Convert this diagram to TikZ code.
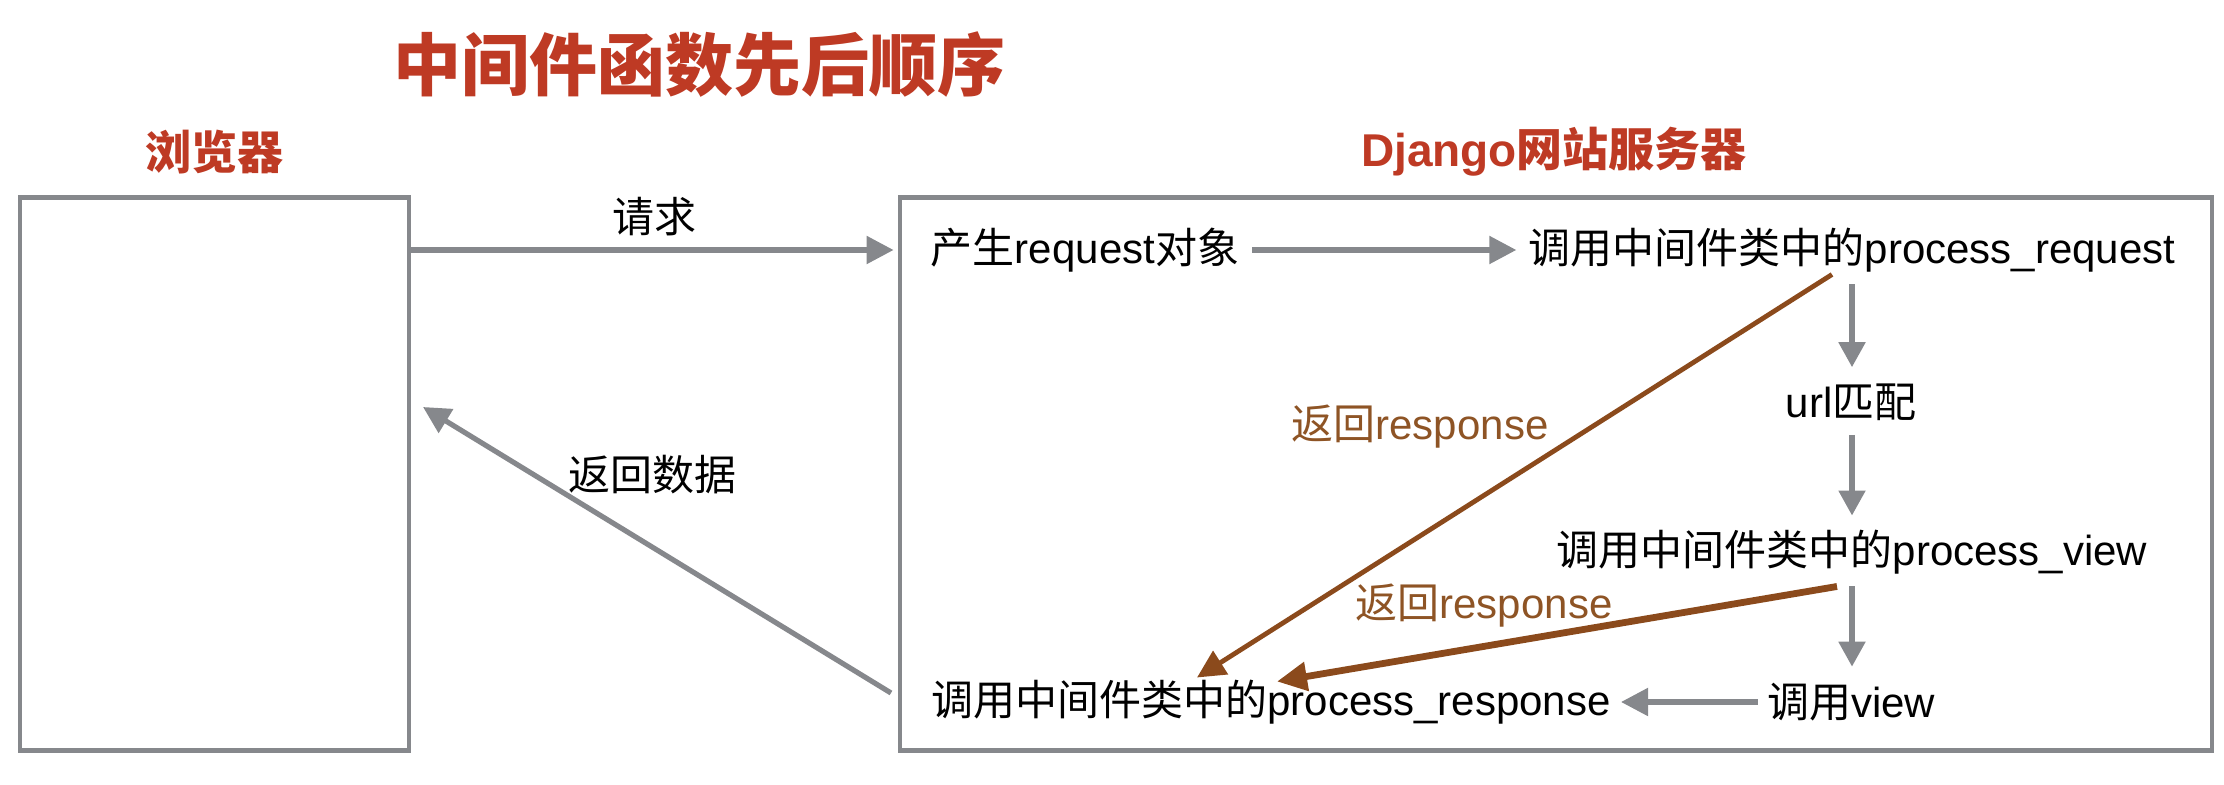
\documentclass[tikz,border=0pt]{standalone}
\usepackage{fontspec}
\setmainfont{Liberation Sans}
\newfontfamily\cjk{Noto Sans CJK SC}
\usetikzlibrary{arrows.meta,calc}
\definecolor{hdrred}{HTML}{BE3A24}
\definecolor{arrgray}{HTML}{86888C}
\definecolor{arrbrown}{HTML}{8B4A1C}
\definecolor{lblbrown}{HTML}{8E5425}
\tikzset{
  hdr/.style={text=hdrred, inner sep=0pt, font=\cjk\bfseries\fontsize{23}{28}\selectfont},
  frame/.style={draw=arrgray, line width=2.4pt, inner sep=0pt},
  txt/.style={inner sep=0pt, font=\fontsize{21}{25}\selectfont},
  lbl/.style={inner sep=0pt, font=\fontsize{21}{25}\selectfont},
  blbl/.style={inner sep=0pt, text=lblbrown, font=\fontsize{21}{25}\selectfont},
  garrow/.style={draw=arrgray, line width=2.6pt, -{Triangle[length=13.5pt,width=13.5pt]}},
  varrow/.style={draw=arrgray, line width=2.6pt, -{Triangle[length=12.5pt,width=13pt]}},
  barrow/.style={draw=arrbrown, line width=2.4pt, -{Triangle[length=14pt,width=13.5pt]}},
  bbarrow/.style={draw=arrbrown, line width=3.4pt, -{Triangle[length=15pt,width=14pt]}},
}
\begin{document}
\begin{tikzpicture}[x=0.5pt,y=-0.5pt]
\useasboundingbox (0,0) rectangle (2224,785);
% headings
\node[hdr, font=\cjk\bfseries\fontsize{34}{40}\selectfont] (title) at (699,65) {中间件函数先后顺序};
\node[hdr] (bhdr) at (214,152) {浏览器};
\node[hdr, font=\bfseries\fontsize{23}{28}\selectfont] (shdr) at (1554,152) {Django{\cjk 网站服务器}};
% frames
\node[frame, minimum width=194.5pt, minimum height=276.5pt] (browser) at (214.5,474) {};
\node[frame, minimum width=656pt, minimum height=276.5pt] (server) at (1556,474) {};
% text nodes
\node[txt] (reqobj) at (1085,250) {{\cjk 产生}request{\cjk 对象}};
\node[txt] (preq) at (1852,250) {{\cjk 调用中间件类中的}process\_request};
\node[txt] (url) at (1851,402) {url{\cjk 匹配}};
\node[txt] (pview) at (1852,552) {{\cjk 调用中间件类中的}process\_view};
\node[txt] (cview) at (1851,702) {{\cjk 调用}view};
\node[txt] (presp) at (1271,702) {{\cjk 调用中间件类中的}process\_response};
% labels
\node[lbl] (lreq) at (654,217) {\cjk 请求};
\node[lbl] (lret) at (652,475) {\cjk 返回数据};
\node[blbl] (lr1) at (1420,427) {{\cjk 返回}response};
\node[blbl] (lr2) at (1484,606) {{\cjk 返回}response};
\coordinate (bret) at (423,407);
% connectors
\draw[garrow, shorten >=2pt] (browser.east |- reqobj) -- (server.west |- reqobj);
\draw[garrow, shorten <=6.5pt, shorten >=6pt] (reqobj.east) -- (preq.west |- reqobj.east);
\draw[varrow, shorten <=6pt, shorten >=8pt] (preq.south) -- (url.north -| preq.south);
\draw[varrow, shorten <=7pt, shorten >=7pt] (url.south -| preq.south) -- (pview.north -| preq.south);
\draw[varrow, shorten <=6pt, shorten >=8pt] (pview.south -| preq.south) -- (cview.north -| preq.south);
\draw[garrow, shorten <=4.5pt, shorten >=5pt] (cview.west) -- (presp.east |- cview.west);
\draw[garrow, shorten >=0pt] ([xshift=-20pt,yshift=4.5pt]presp.west) -- (bret);
\draw[barrow] ([xshift=-10pt,yshift=-1pt]preq.south) -- ([xshift=-37pt,yshift=1pt]presp.north);
\draw[bbarrow] ([xshift=-7.5pt,yshift=-6pt]pview.south) -- ([xshift=3pt,yshift=-1pt]presp.north);
\end{tikzpicture}
\end{document}
